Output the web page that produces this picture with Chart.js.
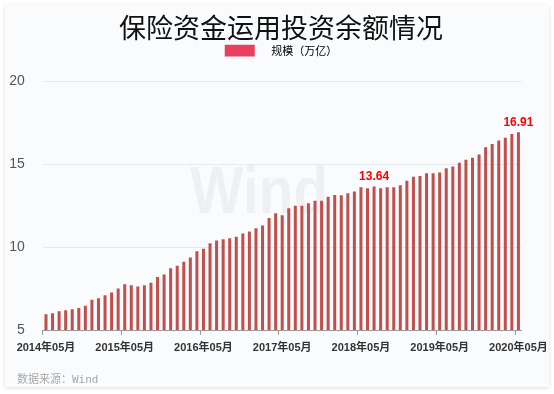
<!DOCTYPE html>
<html>
<head>
<meta charset="utf-8">
<script src="https://cdn.jsdelivr.net/npm/chart.js@4"></script>
<style>
  body { margin: 0; background: #ffffff; }
  .card {
    position: absolute; left: 5px; top: 5px; width: 544px; height: 382px;
    background: #f9fbfd; box-shadow: 0 1px 4px rgba(0, 0, 0, 0.14);
  }
  #wrap { position: absolute; left: 0; top: 0; width: 554px; height: 394px; }
  .source {
    position: absolute; left: 17px; top: 370px;
    font: 11px "DejaVu Sans Mono", "Noto Sans CJK SC", monospace; color: #a8a8a8;
  }
</style>
</head>
<body>
<div class="card"></div>
<div id="wrap"><canvas id="chart" width="554" height="394"></canvas></div>
<div class="source">数据来源：Wind</div>
<script>
// monthly, 2014-05 .. 2020-05 (万亿)
const scaleValues = [
  5.95, 6.01, 6.13, 6.19, 6.25, 6.32, 6.46, 6.82, 6.92, 7.10, 7.26, 7.50,
  7.76, 7.70, 7.62, 7.70, 7.84, 8.20, 8.34, 8.72, 8.87, 9.11, 9.37, 9.75,
  9.89, 10.23, 10.39, 10.47, 10.53, 10.61, 10.81, 10.93, 11.13, 11.29, 11.74, 12.04,
  11.92, 12.34, 12.48, 12.48, 12.64, 12.78, 12.78, 13.02, 13.14, 13.12, 13.24, 13.34,
  13.60, 13.54, 13.64, 13.54, 13.60, 13.60, 13.72, 13.99, 14.23, 14.27, 14.45, 14.45,
  14.49, 14.75, 14.85, 15.07, 15.25, 15.37, 15.57, 16.01, 16.21, 16.42, 16.58, 16.80,
  16.91
];
const yearTicks = ['2014年05月', '2015年05月', '2016年05月', '2017年05月', '2018年05月', '2019年05月', '2020年05月'];
const labeledIdx = [50, 72];

const months = [];
for (let y = 2014; y <= 2020; y++) {
  for (let m = 1; m <= 12; m++) {
    if ((y === 2014 && m < 5) || (y === 2020 && m > 5)) continue;
    months.push(`${y}年${String(m).padStart(2, '0')}月`);
  }
}

const watermark = {
  id: 'watermark',
  beforeDatasetsDraw(chart) {
    const ctx = chart.ctx;
    ctx.save();
    ctx.font = 'bold 67px "Liberation Sans", Arial';
    ctx.fillStyle = 'rgba(0,0,0,0.045)';
    ctx.textBaseline = 'alphabetic';
    const w = ctx.measureText('Wind').width;
    ctx.translate(190, 213);
    ctx.scale(138 / w, 1);
    ctx.fillText('Wind', 0, 0);
    ctx.restore();
  }
};

const valueLabels = {
  id: 'valueLabels',
  afterDatasetsDraw(chart) {
    const ctx = chart.ctx;
    const meta = chart.getDatasetMeta(0);
    ctx.save();
    ctx.font = 'bold 12px "Liberation Sans", Arial';
    ctx.fillStyle = '#ff0000';
    ctx.textAlign = 'center';
    ctx.textBaseline = 'middle';
    labeledIdx.forEach(i => {
      const bar = meta.data[i];
      ctx.fillText(scaleValues[i].toFixed(2), bar.x, bar.y - 10);
    });
    ctx.restore();
  }
};

new Chart(document.getElementById('chart'), {
  type: 'bar',
  data: {
    labels: months,
    datasets: [{
      label: '规模（万亿）',
      data: scaleValues,
      backgroundColor: '#c0504d',
      barPercentage: 0.46,
      categoryPercentage: 1
    }]
  },
  options: {
    responsive: false,
    animation: false,
    events: [],
    layout: { padding: { left: 8, right: 0, top: 0, bottom: 0 } },
    plugins: {
      title: {
        display: true,
        text: '保险资金运用投资余额情况',
        color: '#111',
        font: { family: '"Noto Sans CJK SC"', size: 27, weight: 'normal' },
        padding: { top: 12, bottom: 0 }
      },
      legend: {
        display: true,
        labels: {
          boxWidth: 30,
          boxHeight: 12,
          padding: 0,
          color: '#333',
          font: { family: '"Noto Sans CJK SC"', size: 11 },
          generateLabels: chart => [{
            text: '\u3000' + chart.data.datasets[0].label,
            fillStyle: '#e8405f',
            strokeStyle: '#e8405f',
            lineWidth: 0,
            datasetIndex: 0
          }]
        }
      },
      tooltip: { enabled: false }
    },
    scales: {
      x: {
        offset: true,
        grid: {
          offset: true,
          drawOnChartArea: false,
          drawTicks: true,
          tickLength: 5,
          color: c => (c.index % 12 === 0 ? '#9a9a9a' : 'rgba(0,0,0,0)')
        },
        border: { color: '#9a9a9a', width: 1 },
        ticks: {
          autoSkip: false,
          maxRotation: 0,
          minRotation: 0,
          padding: 6,
          color: '#333',
          font: { family: '"Liberation Sans", "Noto Sans CJK SC"', size: 11, weight: 'bold' },
          callback: (v, i) => (yearTicks.includes(months[i]) ? months[i] : '')
        },
        afterFit: s => { s.height = 64; }
      },
      xT: {
        type: 'linear',
        position: 'top',
        display: true,
        grid: { display: false },
        border: { display: false },
        ticks: { display: false },
        afterFit: s => { s.height = 14.6; }
      },
      y: {
        min: 5,
        max: 20,
        grid: { color: '#e6e9ee', drawTicks: false },
        border: { display: false },
        ticks: {
          stepSize: 5,
          padding: 18,
          color: '#555',
          font: { family: '"Liberation Sans", Arial', size: 14 }
        },
        afterFit: s => { s.width = 34.7; }
      },
      yR: {
        type: 'linear',
        position: 'right',
        display: true,
        grid: { display: false },
        border: { display: false },
        ticks: { display: false },
        afterFit: s => { s.width = 32; }
      }
    }
  },
  plugins: [watermark, valueLabels]
});
</script>
</body>
</html>
